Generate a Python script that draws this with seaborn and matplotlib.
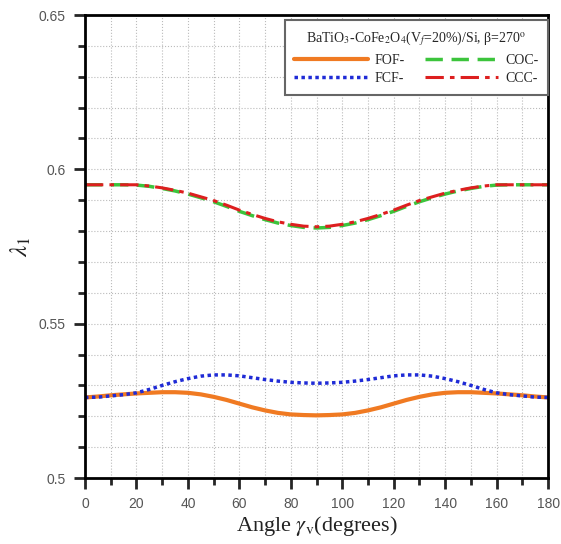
import numpy as np
import pandas as pd
import matplotlib
matplotlib.use("Agg")
import matplotlib.pyplot as plt
from matplotlib.ticker import MultipleLocator, FormatStrFormatter
import seaborn as sns

# angle gamma_v (degrees), every 5 degrees
angles = list(range(0, 185, 5))

half_fof = [0.5261, 0.5264, 0.5268, 0.5271, 0.5274, 0.5276, 0.5278, 0.5278, 0.5276, 0.5271,
            0.5263, 0.5253, 0.5241, 0.5229, 0.5219, 0.5211, 0.5206, 0.5204, 0.5203]
half_fcf = [0.5261, 0.5262, 0.5266, 0.5270, 0.5276, 0.5287, 0.5300, 0.5312, 0.5322, 0.5330,
            0.5334, 0.5334, 0.5331, 0.5325, 0.5319, 0.5314, 0.5310, 0.5308, 0.5307]
half_coc = [0.5950, 0.5950, 0.5950, 0.5950, 0.5949, 0.5945, 0.5938, 0.5930, 0.5920, 0.5908,
            0.5895, 0.5880, 0.5864, 0.5850, 0.5837, 0.5826, 0.5818, 0.5812, 0.5810]
half_ccc = [0.5950, 0.5950, 0.5950, 0.5950, 0.5950, 0.5946, 0.5940, 0.5932, 0.5923, 0.5911,
            0.5899, 0.5884, 0.5868, 0.5854, 0.5841, 0.5830, 0.5822, 0.5816, 0.5814]

# curves are symmetric about 90 degrees
fof = half_fof + half_fof[-2::-1]
fcf = half_fcf + half_fcf[-2::-1]
coc = half_coc + half_coc[-2::-1]
ccc = half_ccc + half_ccc[-2::-1]

sns.set_style("ticks")
plt.rcParams["font.family"] = ["Liberation Sans", "DejaVu Sans"]
plt.rcParams["mathtext.fontset"] = "stix"

fig = plt.figure(figsize=(5.61, 5.44), dpi=100)
ax = fig.add_axes([0.1515, 0.1213, 0.8255, 0.8511])

series = [
    ("FOF-", fof, "#F07A22", "-", 3.0),
    ("FCF-", fcf, "#1F2BD6", (0, (1, 1)), 2.5),
    ("COC-", coc, "#3CC43C", (0, (5, 2.5)), 2.5),
    ("CCC-", ccc, "#DD1F1F", (0, (6, 2, 1.5, 2)), 2.2),
]
for name, vals, color, ls, lw in series:
    sns.lineplot(x=angles, y=vals, ax=ax, color=color, linestyle=ls, linewidth=lw, label=name)

ax.set_xlim(0, 180)
ax.set_ylim(0.5, 0.65)
ax.xaxis.set_major_locator(MultipleLocator(20))
ax.xaxis.set_minor_locator(MultipleLocator(10))
ax.yaxis.set_major_locator(MultipleLocator(0.05))
ax.yaxis.set_minor_locator(MultipleLocator(0.01))
ax.yaxis.set_major_formatter(FormatStrFormatter("%g"))

ax.grid(which="both", color="#bbbbbb", linestyle=":", linewidth=0.8)
for s in ax.spines.values():
    s.set_linewidth(2)
    s.set_color("black")
ax.tick_params(which="major", direction="out", length=8, width=2, labelsize=10, labelcolor="#555555", pad=6)
ax.tick_params(which="minor", direction="out", length=5, width=2)

ax.set_xlabel(r"Angle $\gamma_\mathrm{v}$(degrees)", family="Liberation Serif", fontsize=16, color="#222222", labelpad=2)
ax.set_ylabel(r"$\lambda_1$", family="Liberation Serif", fontsize=18, color="#222222", labelpad=4)

leg = ax.legend(ncol=2, loc="upper right", bbox_to_anchor=(1.0, 0.99),
                title=r"BaTiO$_3$-CoFe$_2$O$_4$(V$_f$=20%)/Si, β=270$^\mathrm{o}$",
                prop={"family": "Liberation Serif", "size": 10}, handlelength=5.3,
                handletextpad=0.5, columnspacing=1.4, labelspacing=0.4,
                frameon=True, fancybox=False, borderpad=0.7, borderaxespad=0)
leg.get_title().set_family("Liberation Serif")
leg.get_title().set_fontsize(10)
leg.get_frame().set_edgecolor("#666666")
leg.get_frame().set_linewidth(1.5)
leg.get_frame().set_alpha(1)

fig.savefig("out.png", dpi=100)
